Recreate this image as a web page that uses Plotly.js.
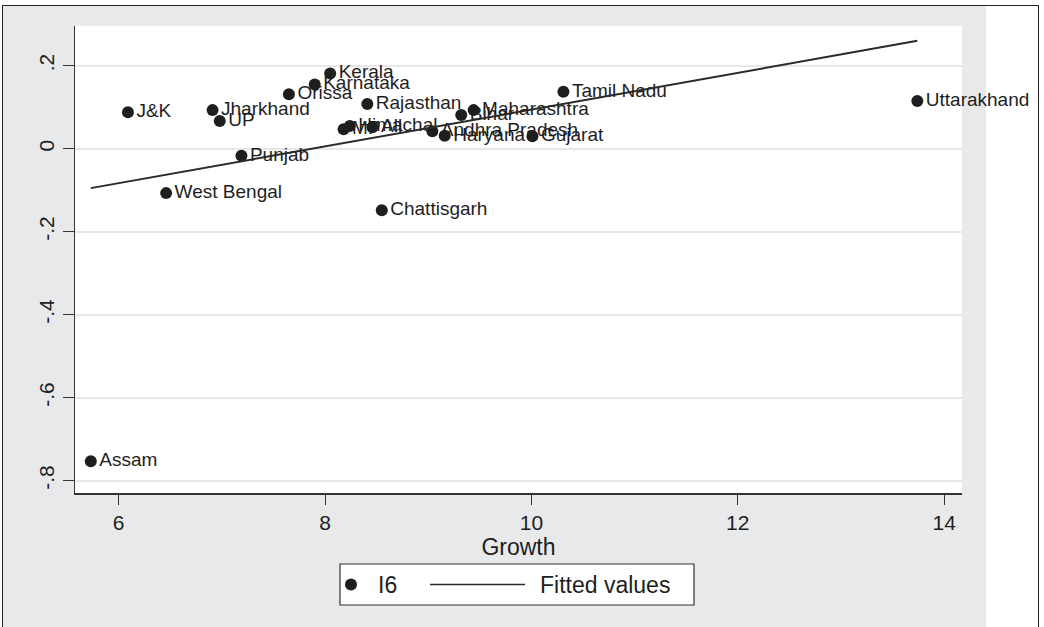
<!DOCTYPE html>
<html>
<head>
<meta charset="utf-8">
<script src="https://cdn.plot.ly/plotly-3.0.1.min.js"></script>
<style>
  html, body { margin: 0; padding: 0; background: #ffffff; }
  #wrap { position: relative; width: 1044px; height: 627px; overflow: hidden; }
  #frame { position: absolute; left: 2px; top: 5px; width: 1037px; height: 640px; border: 1px solid #222; box-sizing: border-box; background: #ffffff; }
  #region { position: absolute; left: 3px; top: 6px; width: 983px; height: 640px; background: #e8e9eb; }
  #chart { position: absolute; left: 0; top: 0; width: 1044px; height: 627px; }
</style>
</head>
<body>
<div id="wrap">
  <div id="frame"></div>
  <div id="region"></div>
  <div id="chart"></div>
</div>
<script>
// State names (marker labels)
const states = ["Assam", "J&K", "West Bengal", "Jharkhand", "UP", "Punjab", "Orissa",
  "Karnataka", "Kerala", "MP", "Himachal", "All", "Rajasthan", "Chattisgarh",
  "Andhra Pradesh", "Haryana", "Bihar", "Maharashtra", "Gujarat", "Tamil Nadu", "Uttarakhand"];
// Growth (x)
const growth = [5.73, 6.09, 6.46, 6.91, 6.98, 7.19, 7.65,
  7.90, 8.05, 8.18, 8.24, 8.46, 8.41, 8.55,
  9.04, 9.16, 9.32, 9.44, 10.01, 10.31, 13.74];
// I6 (y)
const i6 = [-0.753, 0.088, -0.107, 0.093, 0.067, -0.017, 0.131,
  0.155, 0.181, 0.047, 0.055, 0.052, 0.108, -0.148,
  0.042, 0.031, 0.081, 0.093, 0.030, 0.137, 0.115];
// Fitted values line (end points)
const fitX = [5.73, 13.74];
const fitY = [-0.095, 0.260];

const yTickVals = [-0.8, -0.6, -0.4, -0.2, 0, 0.2];
const yTickText = ["-.8", "-.6", "-.4", "-.2", "0", ".2"];
const xTickVals = [6, 8, 10, 12, 14];
const legendNames = ["I6", "Fitted values"];

const FONT = "Liberation Sans, Arial, sans-serif";
const INK = "#1e1e1e";

// plot area geometry in pixels (for placing the legend box in paper coords)
const L = 75, R = 82, T = 26, B = 134, W = 1044, H = 627;
const PW = W - L - R, PH = H - T - B;
const px = v => (v - L) / PW;
const py = v => (H - B - v) / PH;

const traces = [
  {
    type: "scatter", mode: "markers+text", name: legendNames[0],
    x: growth, y: i6, text: states,
    textposition: "middle right",
    textfont: { family: FONT, size: 19, color: INK },
    marker: { color: INK, size: 12 },
    cliponaxis: false
  },
  {
    type: "scatter", mode: "lines", name: legendNames[1],
    x: fitX, y: fitY,
    line: { color: "#2a2a2a", width: 2 }
  }
];

const legY = 584.5;
const layout = {
  width: W, height: H,
  margin: { l: L, r: R, t: T, b: B },
  paper_bgcolor: "rgba(0,0,0,0)",
  plot_bgcolor: "#ffffff",
  font: { family: FONT, color: INK, size: 21 },
  showlegend: false,
  xaxis: {
    range: [5.577, 14.173],
    tickvals: xTickVals,
    ticks: "outside", ticklen: 10, tickwidth: 1, tickcolor: "#333",
    showline: true, linecolor: "#333", linewidth: 1.5,
    showgrid: false, zeroline: false,
    tickfont: { family: FONT, size: 21, color: INK },
    title: { text: "Growth", font: { family: FONT, size: 23, color: INK }, standoff: 0 }
  },
  yaxis: {
    range: [-0.8296, 0.2957],
    tickvals: yTickVals, ticktext: yTickText,
    tickangle: -90,
    ticks: "outside", ticklen: 11, tickwidth: 1, tickcolor: "#333",
    showline: true, linecolor: "#333", linewidth: 1.5,
    showgrid: true, gridcolor: "#e7e7e7", gridwidth: 2,
    zeroline: false,
    tickfont: { family: FONT, size: 21, color: INK }
  },
  shapes: [
    { type: "rect", xref: "paper", yref: "paper",
      x0: px(340), x1: px(694), y0: py(605), y1: py(564),
      fillcolor: "#ffffff", line: { color: "#333", width: 1.2 } },
    { type: "circle", xref: "paper", yref: "paper",
      x0: px(345), x1: px(357), y0: py(legY + 6), y1: py(legY - 6),
      fillcolor: INK, line: { color: INK, width: 0 } },
    { type: "line", xref: "paper", yref: "paper",
      x0: px(430), x1: px(525), y0: py(legY), y1: py(legY),
      line: { color: "#2a2a2a", width: 1.5 } }
  ],
  annotations: [
    { xref: "paper", yref: "paper", x: px(376), y: py(legY), xanchor: "left", yanchor: "middle",
      text: legendNames[0], showarrow: false, font: { family: FONT, size: 23, color: INK } },
    { xref: "paper", yref: "paper", x: px(538), y: py(legY), xanchor: "left", yanchor: "middle",
      text: legendNames[1], showarrow: false, font: { family: FONT, size: 23, color: INK } }
  ]
};

Plotly.newPlot("chart", traces, layout, { displayModeBar: false, staticPlot: true });
</script>
</body>
</html>
